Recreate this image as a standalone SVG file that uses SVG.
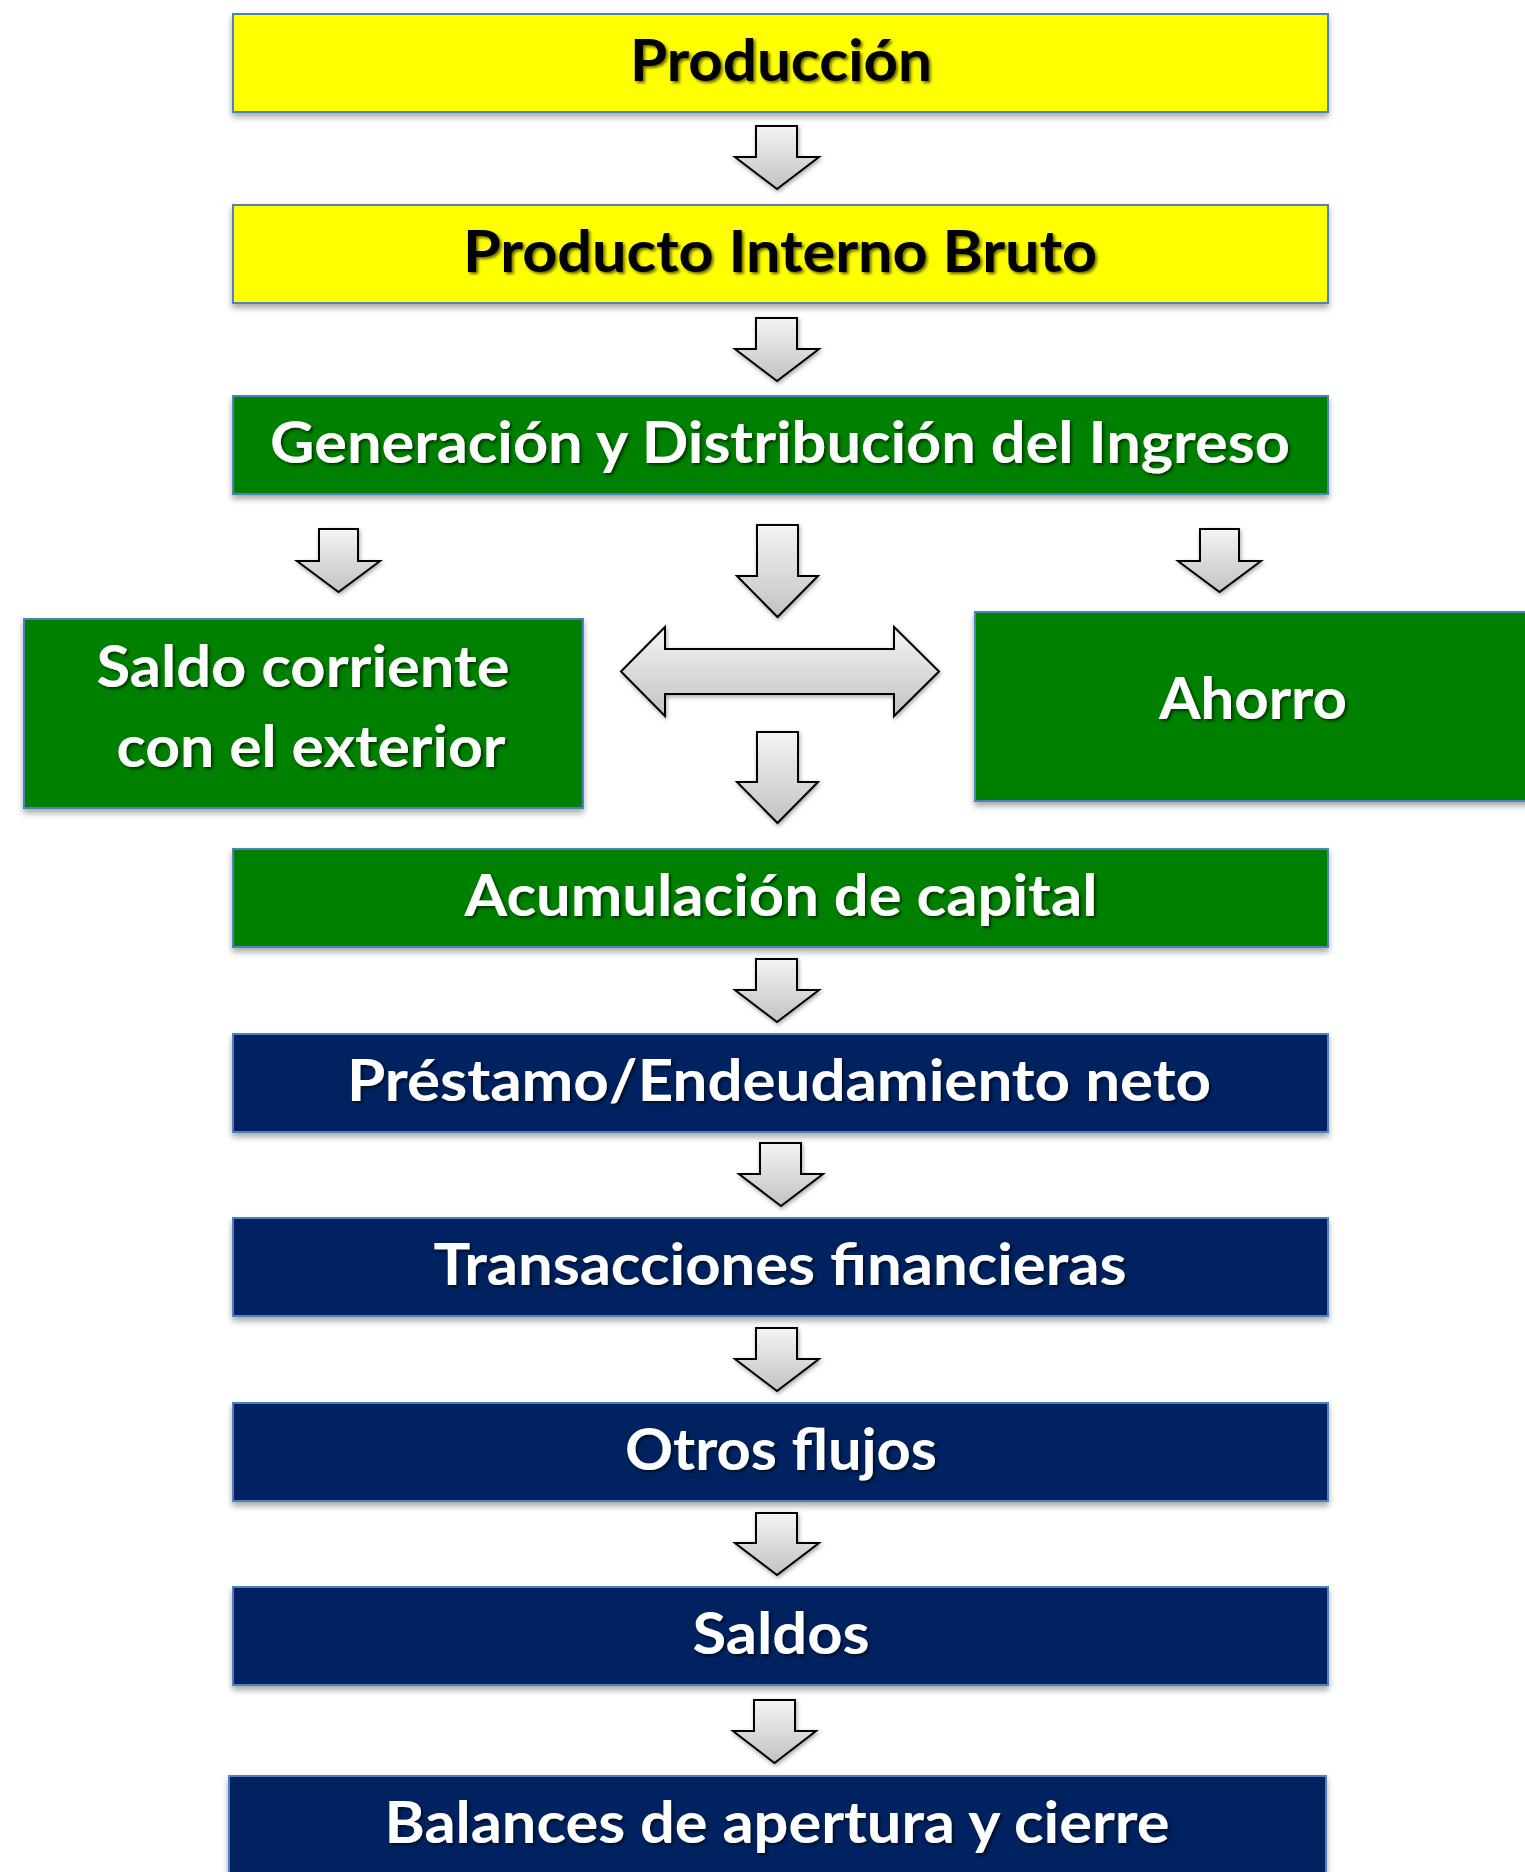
<svg xmlns="http://www.w3.org/2000/svg" width="1525" height="1872" viewBox="0 0 1525 1872">
<defs>
<linearGradient id="ag" x1="0" y1="0" x2="0" y2="1">
<stop offset="0" stop-color="#F4F4F4"/>
<stop offset="1" stop-color="#C2C2C2"/>
</linearGradient>
<filter id="bs" x="-5%" y="-20%" width="110%" height="150%">
<feDropShadow dx="0" dy="4" stdDeviation="3" flood-color="#000" flood-opacity="0.35"/>
</filter>
<filter id="as" x="-30%" y="-30%" width="160%" height="160%">
<feDropShadow dx="1" dy="2" stdDeviation="2" flood-color="#000" flood-opacity="0.35"/>
</filter>
<filter id="ts" x="-5%" y="-20%" width="110%" height="150%">
<feDropShadow dx="2" dy="2" stdDeviation="1.5" flood-color="#000" flood-opacity="0.6"/>
</filter>
</defs>
<style>
.box{stroke:#4F81BD;stroke-width:2;filter:url(#bs)}
.y{fill:#FFFF00}
.g{fill:#008000}
.n{fill:#002060}
.t{font-family:Lato,"Open Sans","Liberation Sans",sans-serif;font-weight:bold;font-size:58px;text-anchor:middle;filter:url(#ts)}
.tb{fill:#000}
.tw{fill:#FFF}
.arr{fill:url(#ag);stroke:#000;stroke-width:2;stroke-linejoin:miter;filter:url(#as)}
</style>
<rect width="1525" height="1872" fill="#FFF"/>

<g id="connectors">
<path class="arr" d="M756 126H797V157H819L777 189L735 157H756Z"/>
<path class="arr" d="M756 318H797V349H819L777 381L735 349H756Z"/>
<path class="arr" d="M319 529H358V561H380L338.5 592L297 561H319Z"/>
<path class="arr" d="M757 525H798V576H818L777.5 617L737 576H757Z"/>
<path class="arr" d="M1200 529H1239V561H1261L1219.5 592L1178 561H1200Z"/>
<path class="arr" d="M621 671.5L665 627V649H894V627L939 671.5L894 716V694H665V716Z"/>
<path class="arr" d="M757 732H798V782H818L777.5 823L737 782H757Z"/>
<path class="arr" d="M756 959H797V990H819L777 1022L735 990H756Z"/>
<path class="arr" d="M760 1143H801V1174H823L781 1206L739 1174H760Z"/>
<path class="arr" d="M756 1328H797V1359H819L777 1391L735 1359H756Z"/>
<path class="arr" d="M756 1513H797V1543H819L777 1575L735 1543H756Z"/>
<path class="arr" d="M754 1700H795V1731H816L774.5 1763L733 1731H754Z"/>
</g>

<g id="produccion">
<rect class="box y" x="233" y="14" width="1095" height="98"/>
<text class="t tb" x="781" y="81" textLength="302" lengthAdjust="spacingAndGlyphs">Producción</text>
</g>
<g id="pib">
<rect class="box y" x="233" y="205" width="1095" height="98"/>
<text class="t tb" x="780" y="272" textLength="634" lengthAdjust="spacingAndGlyphs">Producto Interno Bruto</text>
</g>
<g id="generacion">
<rect class="box g" x="233" y="396" width="1095" height="98"/>
<text class="t tw" x="780" y="463" textLength="1020" lengthAdjust="spacingAndGlyphs">Generación y Distribución del Ingreso</text>
</g>
<g id="saldo-corriente">
<rect class="box g" x="24" y="619" width="559" height="189"/>
<text class="t tw" x="303" y="687" textLength="413" lengthAdjust="spacingAndGlyphs">Saldo corriente</text>
<text class="t tw" x="311" y="767" textLength="389" lengthAdjust="spacingAndGlyphs">con el exterior</text>
</g>
<g id="ahorro">
<rect class="box g" x="975" y="612" width="559" height="189"/>
<text class="t tw" x="1253" y="719" textLength="188" lengthAdjust="spacingAndGlyphs">Ahorro</text>
</g>
<g id="acumulacion">
<rect class="box g" x="233" y="849" width="1095" height="98"/>
<text class="t tw" x="781" y="916" textLength="633" lengthAdjust="spacingAndGlyphs">Acumulación de capital</text>
</g>
<g id="prestamo">
<rect class="box n" x="233" y="1034" width="1095" height="98"/>
<text class="t tw" x="779" y="1101" textLength="864" lengthAdjust="spacingAndGlyphs">Préstamo/Endeudamiento neto</text>
</g>
<g id="transacciones">
<rect class="box n" x="233" y="1218" width="1095" height="98"/>
<text class="t tw" x="780" y="1285" textLength="693" lengthAdjust="spacingAndGlyphs">Transacciones financieras</text>
</g>
<g id="otros-flujos">
<rect class="box n" x="233" y="1403" width="1095" height="98"/>
<text class="t tw" x="781" y="1470" textLength="312" lengthAdjust="spacingAndGlyphs">Otros flujos</text>
</g>
<g id="saldos">
<rect class="box n" x="233" y="1587" width="1095" height="98"/>
<text class="t tw" x="781" y="1654" textLength="177" lengthAdjust="spacingAndGlyphs">Saldos</text>
</g>
<g id="balances">
<rect class="box n" x="229" y="1776" width="1097" height="98"/>
<text class="t tw" x="777" y="1843" textLength="785" lengthAdjust="spacingAndGlyphs">Balances de apertura y cierre</text>
</g>
</svg>
